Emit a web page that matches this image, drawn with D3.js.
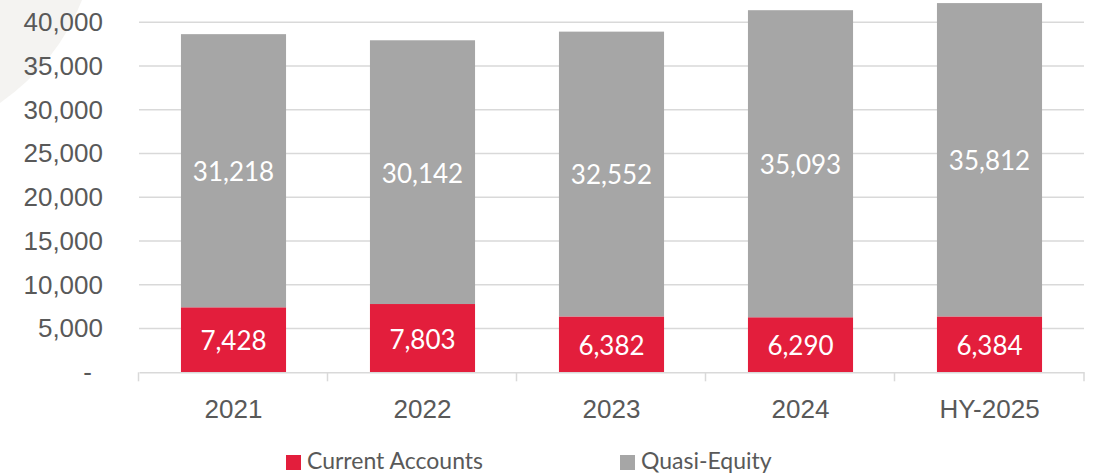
<!DOCTYPE html>
<html>
<head>
<meta charset="utf-8">
<script src="https://cdn.jsdelivr.net/npm/d3@7"></script>
<style>
	body { margin: 0; background: #fff; }
	svg { display: block; font-family: Lato, "Open Sans", sans-serif; }
</style>
</head>
<body>
<div id="chart"></div>
<script>
const categories = ["2021", "2022", "2023", "2024", "HY-2025"];
const currentAccounts = [7428, 7803, 6382, 6290, 6384];
const quasiEquity = [31218, 30142, 32552, 35093, 35812];
const yTicks = [0, 5000, 10000, 15000, 20000, 25000, 30000, 35000, 40000];
const seriesNames = ["Current Accounts", "Quasi-Equity"];

const width = 1094;
const height = 474;
const plotLeft = 139;
const plotRight = 1084;
const plotTop = 22.3;
const plotBottom = 372.3;
const textColor = "#595959";
const gridColor = "#d9d9d9";

function seriesColor(i) {
	switch (i) {
		case 0:
			return "#e31e3c";
		default:
			return "#a6a6a6";
	}
}

const rows = categories.map((c, i) => ({ cat: c, cur: currentAccounts[i], quasi: quasiEquity[i] }));
const stacked = d3.stack().keys(["cur", "quasi"])(rows);

let svg = d3
	.select("#chart")
	.append("svg")
	.attr("width", width)
	.attr("height", height);

// faint decorative shape in the corner
svg.append("path")
	.attr("d", "M0,0 L82,0 Q58,62 0,103 Z")
	.attr("fill", "#f4f3f1");

const x = d3.scaleBand().domain(categories).range([plotLeft, plotRight]).paddingInner(0.444).paddingOuter(0.222);
const y = d3.scaleLinear().domain([0, 40000]).range([plotBottom, plotTop]);

// gridlines
svg.append("g")
	.selectAll("line")
	.data(yTicks.filter((t) => t > 0))
	.enter()
	.append("line")
	.attr("x1", plotLeft)
	.attr("x2", plotRight)
	.attr("y1", (d) => y(d))
	.attr("y2", (d) => y(d))
	.attr("stroke", gridColor)
	.attr("stroke-width", 1.5);

// y axis labels
const fmt = d3.format(",");
const yAxis = svg.append("g").attr("transform", `translate(${plotLeft}, 0)`)
	.call(d3.axisLeft(y).tickValues(yTicks).tickSize(0).tickPadding(36).tickFormat((d) => (d === 0 ? "-" : fmt(d))));
yAxis.select(".domain").remove();
yAxis.selectAll("text")
	.attr("fill", textColor)
	.style("font-size", "26px")
	.attr("dx", (d) => (d === 0 ? -11 : 0));

// bars
const layers = svg.append("g")
	.selectAll("g")
	.data(stacked)
	.enter()
	.append("g")
	.attr("fill", (_d, i) => seriesColor(i));

layers.selectAll("rect")
	.data((d) => d)
	.enter()
	.append("rect")
	.attr("x", (d) => x(d.data.cat))
	.attr("width", x.bandwidth())
	.attr("y", (d) => y(d[1]))
	.attr("height", (d) => y(d[0]) - y(d[1]));

layers.selectAll("text")
	.data((d) => d)
	.enter()
	.append("text")
	.attr("x", (d) => x(d.data.cat) + x.bandwidth() / 2)
	.attr("y", (d) => (y(d[0]) + y(d[1])) / 2)
	.attr("dy", "0.4em")
	.attr("text-anchor", "middle")
	.attr("fill", "#fff")
	.style("font-size", "26px")
	.text((d) => fmt(d[1] - d[0]));

// x axis
const xAxis = svg.append("g").attr("transform", `translate(0, ${plotBottom})`)
	.call(d3.axisBottom(x).tickSize(0).tickPadding(37).tickSizeOuter(0));
xAxis.select(".domain").attr("stroke", gridColor).attr("stroke-width", 1.5);
xAxis.selectAll("text").attr("fill", textColor).style("font-size", "26px").attr("dy", "0.32em");

// category boundary ticks
const bounds = categories.map((c) => x(c) - (x.step() * x.paddingInner()) / 2 - 0.5);
bounds.push(plotRight);
xAxis.selectAll(".bound")
	.data(bounds)
	.enter()
	.append("line")
	.attr("class", "bound")
	.attr("x1", (d) => d)
	.attr("x2", (d) => d)
	.attr("y1", 0)
	.attr("y2", 9)
	.attr("stroke", gridColor)
	.attr("stroke-width", 1.5);

// legend
const legendX = [286, 620];
const legend = svg.append("g")
	.selectAll("g")
	.data(seriesNames)
	.enter()
	.append("g")
	.attr("transform", (_d, i) => `translate(${legendX[i]}, 455)`);
legend.append("rect")
	.attr("width", 15)
	.attr("height", 15)
	.attr("fill", (_d, i) => seriesColor(i));
legend.append("text")
	.attr("x", 21)
	.attr("y", 14)
	.attr("fill", textColor)
	.style("font-size", "23px")
	.text((d) => d);
</script>
</body>
</html>
